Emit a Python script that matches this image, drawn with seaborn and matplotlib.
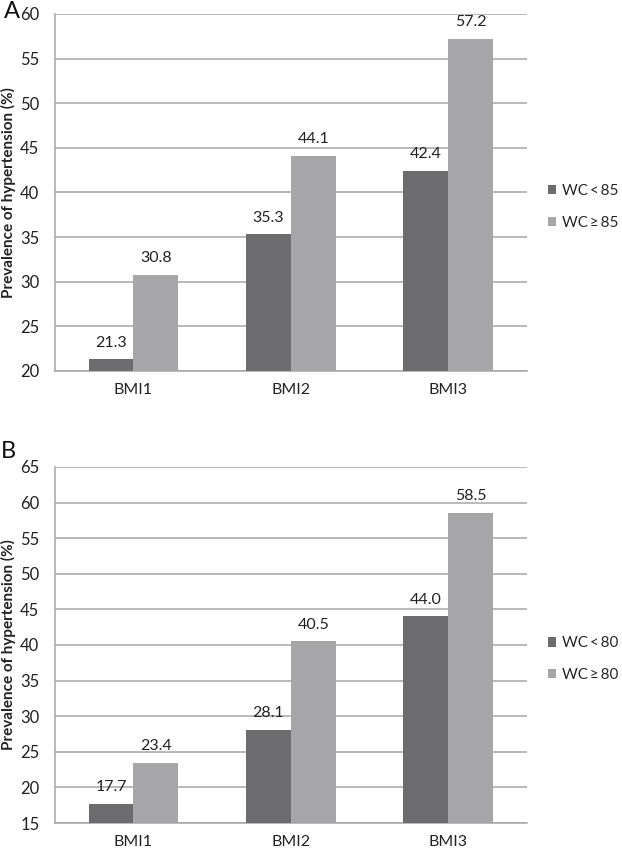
import matplotlib
matplotlib.use("Agg")
import matplotlib.pyplot as plt
import pandas as pd
import seaborn as sns

# 数据
categories = ["BMI1", "BMI2", "BMI3"]

a_groups = ["WC\u2009<\u200985", "WC\u2009\u2265\u200985"]
a_low = [21.3, 35.3, 42.4]
a_high = [30.8, 44.1, 57.2]
a_yticks = [20, 25, 30, 35, 40, 45, 50, 55, 60]

b_groups = ["WC\u2009<\u200980", "WC\u2009\u2265\u200980"]
b_low = [17.7, 28.1, 44.0]
b_high = [23.4, 40.5, 58.5]
b_yticks = [15, 20, 25, 30, 35, 40, 45, 50, 55, 60, 65]

palette = ["#6c6c6e", "#a6a6a8"]
grid_color = "#a6a6a6"
text_color = "#222222"

sns.set_theme(style="white")
plt.rcParams["font.family"] = ["Lato", "DejaVu Sans"]


def draw_panel(ax, groups, low, high, yticks):
    """绘制单个分组柱状图面板"""
    df = pd.DataFrame({
        "BMI": categories * 2,
        "WC": [groups[0]] * 3 + [groups[1]] * 3,
        "value": low + high,
    })
    sns.barplot(data=df, x="BMI", y="value", hue="WC", palette=palette,
                width=0.57, saturation=1, linewidth=0, ax=ax,
                legend=True, zorder=3)

    for container in ax.containers:
        ax.bar_label(container, fmt="%.1f", padding=7, fontsize=11.5,
                     color=text_color)

    ax.set_ylim(yticks[0], yticks[-1])
    ax.set_yticks(yticks)
    ax.set_xlim(-0.5, 2.5)
    ax.yaxis.grid(True, color=grid_color, linewidth=1.1, zorder=0)
    ax.set_axisbelow(True)

    for side in ["top", "right"]:
        ax.spines[side].set_visible(False)
    for side in ["left", "bottom"]:
        ax.spines[side].set_color(grid_color)
        ax.spines[side].set_linewidth(1.1)

    ax.tick_params(axis="y", length=0, pad=11, labelsize=12, labelcolor=text_color)
    ax.tick_params(axis="x", length=0, pad=8.5, labelsize=11.5, labelcolor=text_color)
    ax.set_xlabel("")
    ax.set_ylabel("Prevalence of hypertension (%)", fontsize=11,
                  fontweight="bold", labelpad=3, color=text_color)

    ax.legend(loc="center left", bbox_to_anchor=(1.045, 0.46), frameon=False,
              fontsize=11, handlelength=0.55, handleheight=0.55,
              handletextpad=0.35, labelspacing=1.15, borderpad=0,
              borderaxespad=0)


fig = plt.figure(figsize=(6.22, 8.52), dpi=100)
ax_a = fig.add_axes([0.088, 0.5646, 0.759, 0.419])
ax_b = fig.add_axes([0.088, 0.034, 0.759, 0.418])

draw_panel(ax_a, a_groups, a_low, a_high, a_yticks)
draw_panel(ax_b, b_groups, b_low, b_high, b_yticks)

# 面板字母
fig.text(4 / 622, 1 - 12 / 852, "A", fontsize=17, ha="left", va="center",
         color="#111111")
fig.text(1 / 622, 1 - 452 / 852, "B", fontsize=17, ha="left", va="center",
         color="#111111")

fig.savefig("out.png", dpi=100)
plt.close(fig)
